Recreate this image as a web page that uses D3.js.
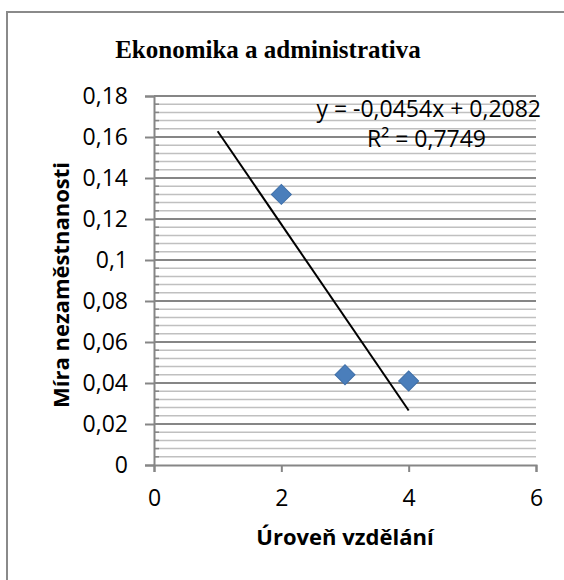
<!DOCTYPE html>
<html><head><meta charset="utf-8">
<script src="https://cdn.jsdelivr.net/npm/d3@7"></script>
<style>html,body{margin:0;padding:0;background:#fff;overflow:hidden}</style>
</head><body>
<svg id="c" width="564" height="580"></svg>
<script>
const title = "Ekonomika a administrativa";
const xLabel = "Úroveň vzdělání";
const yLabel = "Míra nezaměstnanosti";
const xValues = [2, 3, 4];
const yValues = [0.132, 0.044, 0.041];
const xTicks = [0, 2, 4, 6];
const yTicks = [0, 0.02, 0.04, 0.06, 0.08, 0.1, 0.12, 0.14, 0.16, 0.18];
const slope = -0.0454, intercept = 0.2082, r2 = "0,7749";
const trendRange = [1, 4];

const svg = d3.select("#c");
const sans = "'Open Sans', sans-serif";
const fmt = v => String(+v.toFixed(4)).replace(".", ",");

svg.append("rect").attr("x", 7).attr("y", 12).attr("width", 600).attr("height", 600)
  .attr("fill", "#fff").attr("stroke", "#8a8a8a").attr("stroke-width", 2);

const x = d3.scaleLinear().domain([0, 6]).range([154, 536]);
const y = d3.scaleLinear().domain([0, 0.18]).range([465, 96]);

// minor gridlines
const minor = d3.range(0, 0.1801, 0.004).filter((v, i) => i % 5 !== 0);
svg.append("g").selectAll("line").data(minor).join("line")
  .attr("x1", x(0)).attr("x2", x(6)).attr("y1", d => y(d)).attr("y2", d => y(d))
  .attr("stroke", "#c0c0c0").attr("stroke-width", 1.5);
// major gridlines
svg.append("g").selectAll("line").data(yTicks.slice(1)).join("line")
  .attr("x1", x(0)).attr("x2", x(6)).attr("y1", d => y(d)).attr("y2", d => y(d))
  .attr("stroke", "#868686").attr("stroke-width", 2);

// axes
const yAxis = svg.append("g").attr("transform", `translate(${x(0)},0)`)
  .call(d3.axisLeft(y).tickValues(yTicks).tickSize(9).tickPadding(17).tickFormat(fmt));
const xAxis = svg.append("g").attr("transform", `translate(0,${y(0)})`)
  .call(d3.axisBottom(x).tickValues(xTicks).tickSize(7).tickPadding(18).tickFormat(fmt));
[yAxis, xAxis].forEach(a => {
  a.select(".domain").attr("stroke", "#868686").attr("stroke-width", 2);
  a.selectAll(".tick line").attr("stroke", "#868686").attr("stroke-width", 2);
  a.selectAll("text").attr("font-family", sans).attr("font-size", 23).attr("fill", "#000");
});
// minor ticks on y axis
svg.append("g").selectAll("line").data(minor).join("line")
  .attr("x1", x(0)).attr("x2", x(0) + 5).attr("y1", d => y(d)).attr("y2", d => y(d))
  .attr("stroke", "#868686").attr("stroke-width", 1.5);

// trendline
svg.append("line")
  .attr("x1", x(trendRange[0])).attr("y1", y(slope * trendRange[0] + intercept))
  .attr("x2", x(trendRange[1])).attr("y2", y(slope * trendRange[1] + intercept))
  .attr("stroke", "#000").attr("stroke-width", 2);

// markers
svg.append("g").selectAll("path").data(xValues.map((v, i) => [v, yValues[i]])).join("path")
  .attr("d", d3.symbol().type(d3.symbolSquare).size(200))
  .attr("transform", d => `translate(${x(d[0])},${y(d[1])}) rotate(45)`)
  .attr("fill", "#4a7ebb").attr("stroke", "#3f6fa8").attr("stroke-width", 1);

// equation
svg.append("text").attr("x", 541).attr("y", 117).attr("text-anchor", "end")
  .attr("font-family", sans).attr("font-size", 23)
  .text(`y = ${fmt(slope)}x + ${fmt(intercept)}`);
svg.append("text").attr("x", 367).attr("y", 147)
  .attr("font-family", sans).attr("font-size", 23)
  .text(`R² = ${r2}`);

// title
svg.append("text").attr("x", 268).attr("y", 58).attr("text-anchor", "middle")
  .attr("font-family", "'Liberation Serif', serif").attr("font-weight", "bold").attr("font-size", 25)
  .text(title);
// axis titles
svg.append("text").attr("x", 345).attr("y", 545).attr("text-anchor", "middle")
  .attr("font-family", sans).attr("font-weight", "bold").attr("font-size", 22)
  .text(xLabel);
svg.append("text").attr("transform", "translate(69,285) rotate(-90)").attr("text-anchor", "middle")
  .attr("font-family", sans).attr("font-weight", "bold").attr("font-size", 22)
  .text(yLabel);
</script>
</body></html>
